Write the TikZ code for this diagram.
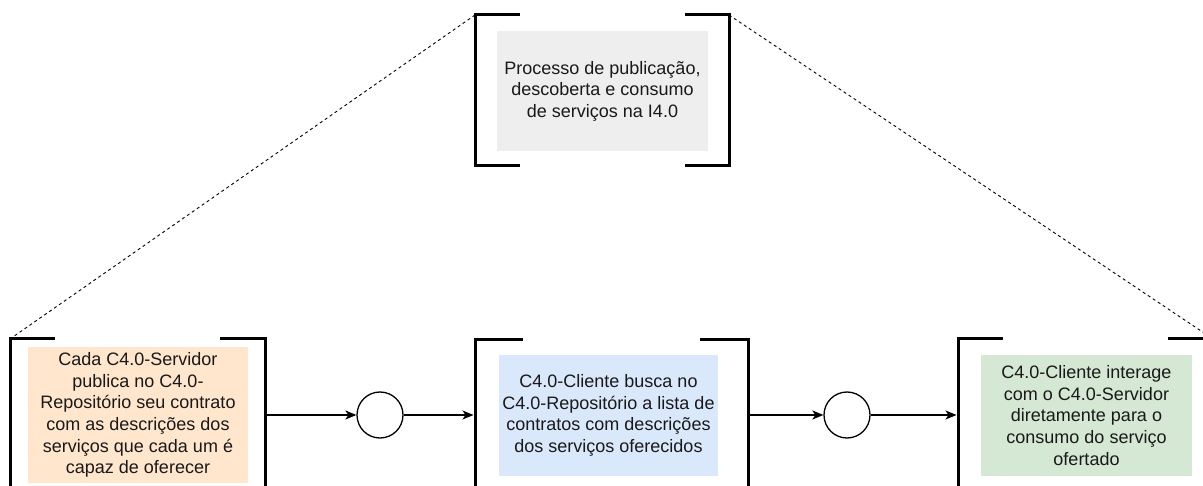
\documentclass[tikz,border=0pt]{standalone}
\usepackage{fontspec}
\setmainfont{Liberation Sans}
\usetikzlibrary{arrows.meta}
\definecolor{graybox}{HTML}{EEEEEE}
\definecolor{orangebox}{HTML}{FFE6CC}
\definecolor{bluebox}{HTML}{DAE8FC}
\definecolor{greenbox}{HTML}{D5E8D4}
\begin{document}
\begin{tikzpicture}[x=1pt,y=-1pt,
  bracketline/.style={line width=3pt, line cap=butt, line join=miter},
  txtbox/.style={draw=none, inner sep=0pt, align=center, font=\fontsize{18}{21.6}\selectfont, text=black!90},
  stepcircle/.style={circle, draw, line width=1.3pt, minimum size=46pt, inner sep=0pt, fill=white},
  flowarrow/.style={line width=1.3pt, -{Stealth[length=11pt,width=9pt,inset=3pt]}},
  zoomline/.style={line width=0.9pt, dash pattern=on 3pt off 3pt}
]
\useasboundingbox (0,0) rectangle (1203,486);
\clip (0,0) rectangle (1203,486);

% top box
\node[txtbox, fill=graybox, minimum width=211pt, minimum height=120pt] (topbox) at (602.5,91) {Processo de publicação,\\descoberta e consumo\\de serviços na I4.0};
\draw[bracketline] (520,15) -- (475,15) -- (475,166) -- (520,166);
\draw[bracketline] (685,15) -- (729,15) -- (729,166) -- (685,166);
\coordinate (tl) at (475,15);
\coordinate (tr) at (729,15);

% bottom boxes
\node[txtbox, fill=orangebox, minimum width=220pt, minimum height=136pt] (box1) at (138,415) {Cada C4.0-Servidor\\publica no C4.0-\\Repositório seu contrato\\com as descrições dos\\serviços que cada um é\\capaz de oferecer};
\node[txtbox, fill=bluebox, minimum width=219pt, minimum height=121pt] (box2) at (608.5,415.5) {C4.0-Cliente busca no\\C4.0-Repositório a lista de\\contratos com descrições\\dos serviços oferecidos};
\node[txtbox, fill=greenbox, minimum width=211pt, minimum height=121pt] (box3) at (1086.5,415.5) {C4.0-Cliente interage\\com o C4.0-Servidor\\diretamente para o\\consumo do serviço\\ofertado};

% brackets
\draw[bracketline] (55,339) -- (10,339) -- (10,560);
\draw[bracketline] (220,339) -- (265,339) -- (265,560);
\draw[bracketline] (523,340) -- (475,340) -- (475,560);
\draw[bracketline] (700,340) -- (748,340) -- (748,560);
\draw[bracketline] (1003,339) -- (958,339) -- (958,560);
\draw[bracketline] (1168,339) -- (1213,339) -- (1213,560);

\coordinate (bl) at (10,339);
\coordinate (br) at (1213,339);
\coordinate (b1r) at (266.5,415);
\coordinate (b2l) at (473.5,415);
\coordinate (b2r) at (749.5,415);
\coordinate (b3l) at (956.5,415);

% circles
\node[stepcircle] (c1) at (380,415) {};
\node[stepcircle] (c2) at (847,415) {};

% arrows
\draw[flowarrow] (b1r) -- (c1);
\draw[flowarrow] (c1) -- (b2l);
\draw[flowarrow] (b2r) -- (c2);
\draw[flowarrow] (c2) -- (b3l);

% dashed zoom lines
\draw[zoomline] (tl) -- (bl);
\draw[zoomline] (tr) -- (br);
\end{tikzpicture}
\end{document}
